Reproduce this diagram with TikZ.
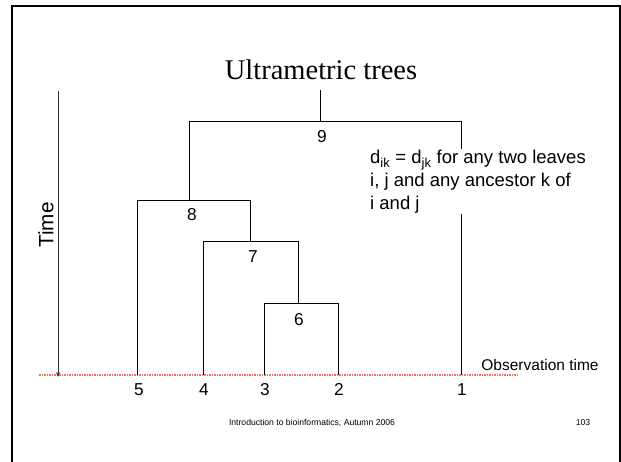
\documentclass[tikz,border=0pt]{standalone}
\usepackage{fontspec}
\setmainfont{Liberation Sans}
\newfontfamily\titlefont{Liberation Serif}
\usetikzlibrary{arrows.meta}
\definecolor{obsred}{RGB}{250,115,85}
\begin{document}
\begin{tikzpicture}[x=1pt,y=-1pt,
  tree/.style={line width=0.9pt, black},
  num/.style={font=\fontsize{17.25}{20}\selectfont, inner sep=0pt, anchor=center},
  body/.style={font=\fontsize{18.5}{20.5}\selectfont},
]
\useasboundingbox (0,0) rectangle (621,461);
% frame
\draw[line width=2pt] (12,475) -- (12,6) -- (620,6) -- (620,475);
% title
\node[anchor=base, inner sep=0pt, font=\titlefont\fontsize{28.5}{32}\selectfont] (title) at (321,79) {Ultrametric trees};

% tree coordinates
\coordinate (root) at (320,90);
\coordinate (n9) at (320,121);
\coordinate (n8) at (189,200);
\coordinate (n7) at (250,241);
\coordinate (n6) at (298,303);
\coordinate (l5) at (137,375);
\coordinate (l4) at (203,375);
\coordinate (l3) at (264,375);
\coordinate (l2) at (338,375);
\coordinate (l1) at (461,375);

% observation line and time arrow
\coordinate (obsL) at (39,375);
\coordinate (obsR) at (519,375);
\draw[obsred, line width=1.2pt, dash pattern=on 1.5pt off 1pt] (obsL) -- (obsR);
\coordinate (tA) at (58,91);
\coordinate (tB) at (58,377);
\draw[line width=0.8pt, black!80, -{Stealth[length=5pt,width=4pt]}] (tA) -- (tB);
\node[rotate=90, inner sep=0pt, font=\fontsize{20.7}{24}\selectfont] (time) at (46,225) {Time};
\node[inner sep=0pt, font=\fontsize{15.5}{18}\selectfont] (obs) at (540,365) {Observation time};

% tree
\draw[tree] (root) -- (n9);
\draw[tree] (n8) -- (n8 |- n9) -- (l1 |- n9) -- (l1);
\draw[tree] (l5) -- (l5 |- n8) -- (n7 |- n8) -- (n7);
\draw[tree] (l4) -- (l4 |- n7) -- (n6 |- n7) -- (n6);
\draw[tree] (l3) -- (l3 |- n6) -- (l2 |- n6) -- (l2);

% internal labels
\node[num] (t9) at (322,137) {9};
\node[num] (t8) at (192,215) {8};
\node[num] (t7) at (253,257) {7};
\node[num] (t6) at (299,320) {6};
% leaf labels
\node[num] (t5) at (139,390) {5};
\node[num] (t4) at (204,390) {4};
\node[num] (t3) at (265,390) {3};
\node[num] (t2) at (339,389) {2};
\node[num] (t1) at (462,390) {1};

% definition text
\node[body, fill=white, anchor=north west, align=left, inner xsep=1pt, inner ysep=1pt] (def) at (369,149)
  {d\textsubscript{ik} = d\textsubscript{jk} for any two leaves\\[2.5pt]i, j and any ancestor k of\\[2.5pt]i and j};

% footer
\node[inner sep=0pt, font=\fontsize{8.6}{10}\selectfont] (foot) at (312,423) {Introduction to bioinformatics, Autumn 2006};
\node[inner sep=0pt, font=\fontsize{8.6}{10}\selectfont] (page) at (583,423) {103};
\end{tikzpicture}
\end{document}
